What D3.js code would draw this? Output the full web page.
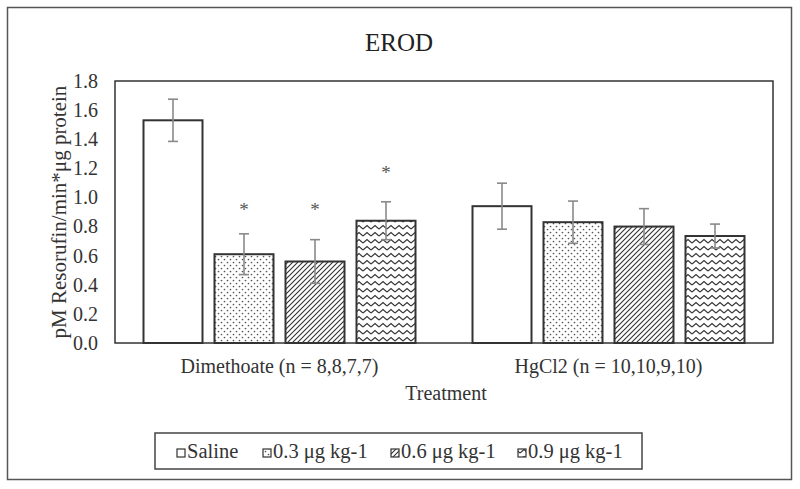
<!DOCTYPE html>
<html><head><meta charset="utf-8">
<script src="https://cdn.jsdelivr.net/npm/d3@7"></script>
<style>body{margin:0;background:#fff;} svg{display:block;}</style>
</head><body>
<svg id="chart" width="800" height="489"></svg>
<script>
const groups = ["Dimethoate (n = 8,8,7,7)", "HgCl2 (n = 10,10,9,10)"];
const series = ["Saline", "0.3 μg kg-1", "0.6 μg kg-1", "0.9 μg kg-1"];
const means = [[1.53, 0.61, 0.56, 0.84], [0.94, 0.83, 0.80, 0.735]];
const errs = [[0.145, 0.14, 0.15, 0.13], [0.158, 0.145, 0.123, 0.082]];
const stars = [[null, 0.934, 0.934, 1.19], [null, null, null, null]];
const yTicks = [0, 0.2, 0.4, 0.6, 0.8, 1.0, 1.2, 1.4, 1.6, 1.8];

const svg = d3.select("#chart");
const font = "'Liberation Serif','Times New Roman',serif";
const L = 115, R = 773, T = 81, B = 343;

// patterns
const defs = svg.append("defs");
const pDots = defs.append("pattern").attr("id","pDots").attr("patternUnits","userSpaceOnUse").attr("width",6).attr("height",6);
pDots.append("rect").attr("width",6).attr("height",6).attr("fill","#fff");
pDots.append("circle").attr("cx",1.5).attr("cy",1.5).attr("r",0.85).attr("fill","#555");
pDots.append("circle").attr("cx",4.5).attr("cy",4.5).attr("r",0.85).attr("fill","#555");
const pHatch = defs.append("pattern").attr("id","pHatch").attr("patternUnits","userSpaceOnUse").attr("width",5).attr("height",5);
pHatch.append("rect").attr("width",5).attr("height",5).attr("fill","#fff");
pHatch.append("path").attr("d","M-1,1 L1,-1 M0,5 L5,0 M4,6 L6,4").attr("stroke","#333").attr("stroke-width",1.1);
const pWave = defs.append("pattern").attr("id","pWave").attr("patternUnits","userSpaceOnUse").attr("width",8).attr("height",7);
pWave.append("rect").attr("width",8).attr("height",7).attr("fill","#fff");
pWave.append("path").attr("d","M0,5 L4,1.5 L8,5").attr("fill","none").attr("stroke","#333").attr("stroke-width",1.1);
const fills = ["#fff", "url(#pDots)", "url(#pHatch)", "url(#pWave)"];

// outer frame
svg.append("rect").attr("x",7.5).attr("y",7.5).attr("width",784).attr("height",472)
  .attr("fill","#fff").attr("stroke","#555").attr("stroke-width",1.5);

const y = d3.scaleLinear().domain([0,1.8]).range([B,T]);
const x0 = d3.scaleBand().domain(groups).range([L,R]).padding(0);
const x1 = d3.scaleBand().domain(series).range([28.5, 300.5]).paddingInner(12/71).paddingOuter(0);

// plot border
svg.append("rect").attr("x",L).attr("y",T).attr("width",R-L).attr("height",B-T)
  .attr("fill","none").attr("stroke","#333").attr("stroke-width",1.5);

// y axis labels
const yAxis = d3.axisLeft(y).tickValues(yTicks).tickFormat(d3.format(".1f")).tickSize(0).tickPadding(17);
const ga = svg.append("g").attr("transform",`translate(${L},0)`).call(yAxis);
ga.select(".domain").remove();
ga.selectAll("text").attr("font-family",font).attr("font-size",20).attr("fill","#333");

// bars
groups.forEach((g,gi)=>{
  const gg = svg.append("g").attr("transform",`translate(${x0(g)},0)`);
  series.forEach((s,si)=>{
    const v = means[gi][si], e = errs[gi][si];
    const bx = x1(s), bw = x1.bandwidth();
    gg.append("rect").attr("x",bx).attr("y",y(v)).attr("width",bw).attr("height",y(0)-y(v))
      .attr("fill",fills[si]).attr("stroke","#333").attr("stroke-width",2);
    const cx = bx + bw/2;
    gg.append("line").attr("x1",cx).attr("x2",cx).attr("y1",y(v+e)).attr("y2",y(v-e)).attr("stroke","#8a8a8a").attr("stroke-width",1.6);
    [v+e, v-e].forEach(t=>gg.append("line").attr("x1",cx-5).attr("x2",cx+5).attr("y1",y(t)).attr("y2",y(t)).attr("stroke","#8a8a8a").attr("stroke-width",1.6));
    const st = stars[gi][si];
    if (st !== null) {
      gg.append("text").attr("x",cx).attr("y",y(st)+9).attr("text-anchor","middle")
        .attr("font-family",font).attr("font-size",19).attr("fill","#555").text("*");
    }
  });
});

// category labels
groups.forEach(g=>{
  svg.append("text").attr("x",x0(g)+x0.bandwidth()/2).attr("y",373).attr("text-anchor","middle")
    .attr("font-family",font).attr("font-size",20).attr("fill","#333").text(g);
});
svg.append("text").attr("x",446).attr("y",400).attr("text-anchor","middle")
  .attr("font-family",font).attr("font-size",20).attr("fill","#333").text("Treatment");

// title
svg.append("text").attr("x",399).attr("y",51).attr("text-anchor","middle")
  .attr("font-family",font).attr("font-size",25).attr("fill","#222").text("EROD");

// y label
svg.append("text").attr("transform",`translate(66,${(T+B)/2}) rotate(-90)`).attr("text-anchor","middle")
  .attr("font-family",font).attr("font-size",21).attr("fill","#333").text("pM Resorufin/min*μg protein");

// legend
svg.append("rect").attr("x",155).attr("y",433).attr("width",487).attr("height",36)
  .attr("fill","#fff").attr("stroke","#444").attr("stroke-width",1.5);
const legX = [177, 263, 391, 518];
series.forEach((s,si)=>{
  svg.append("rect").attr("x",legX[si]).attr("y",449).attr("width",8).attr("height",8)
    .attr("fill",fills[si]).attr("stroke","#333").attr("stroke-width",1.2);
  svg.append("text").attr("x",legX[si]+10).attr("y",458).attr("font-family",font).attr("font-size",20.5)
    .attr("fill","#333").text(s);
});
</script>
</body></html>
